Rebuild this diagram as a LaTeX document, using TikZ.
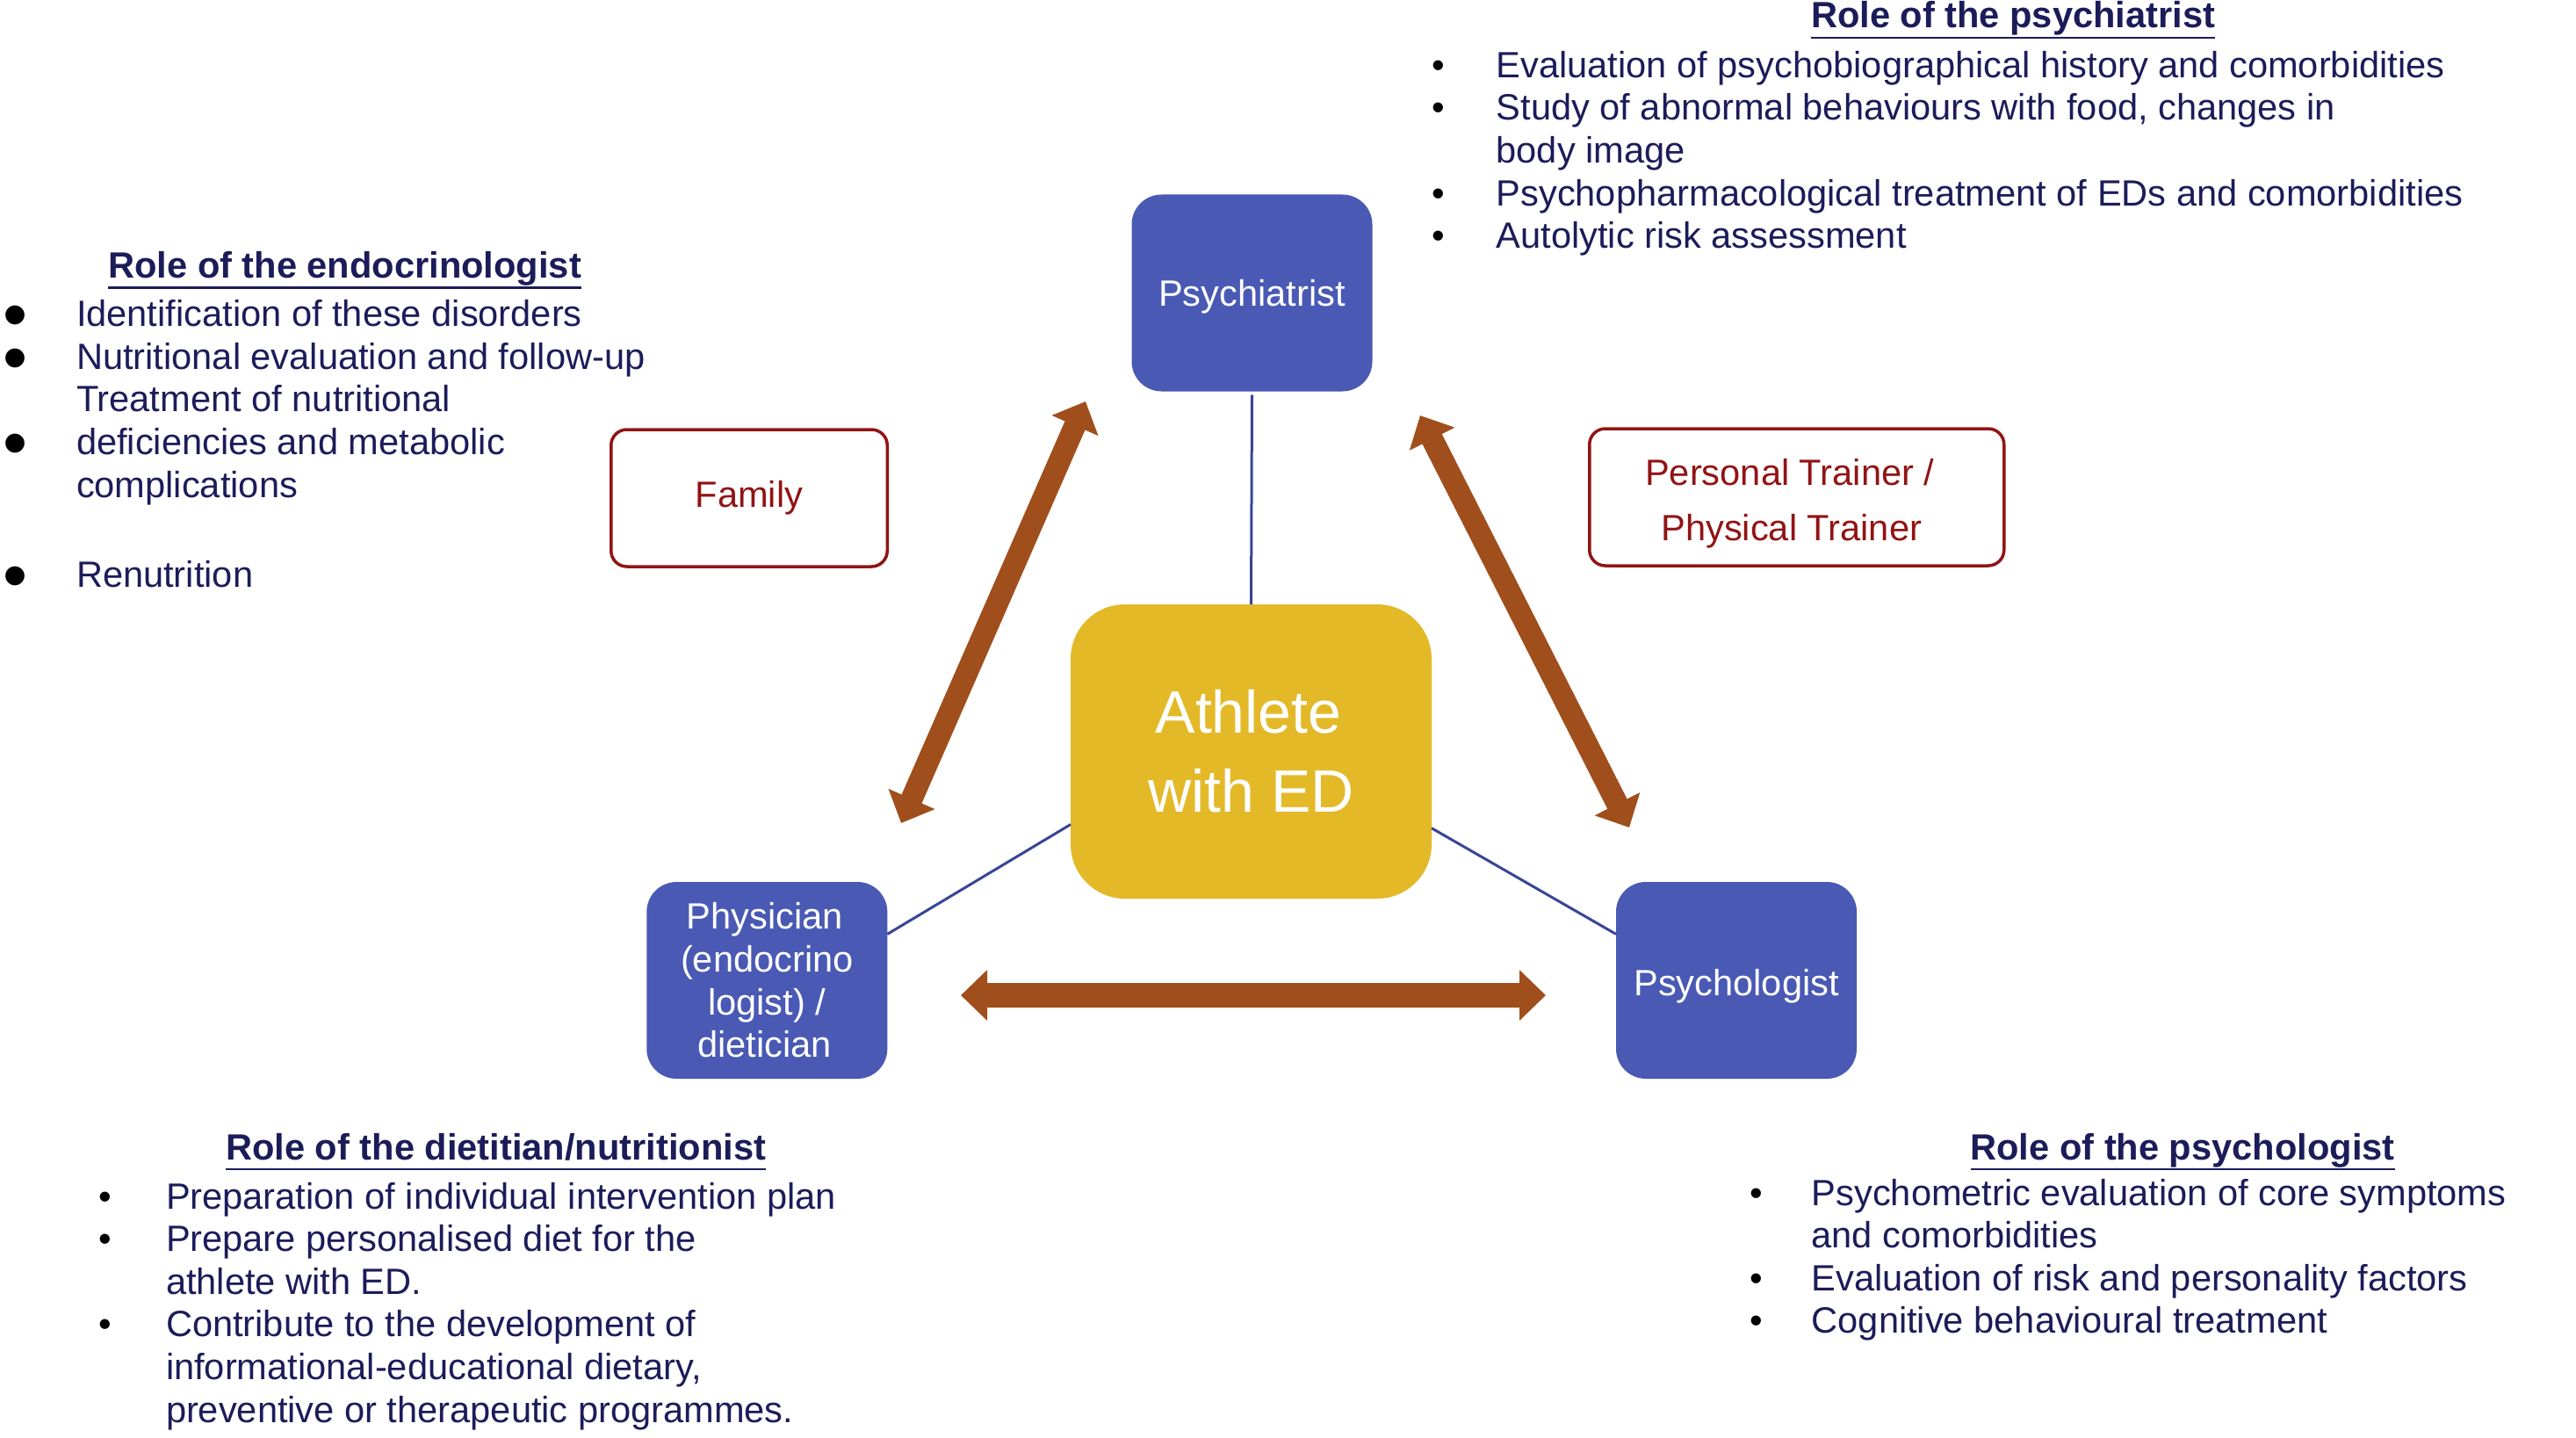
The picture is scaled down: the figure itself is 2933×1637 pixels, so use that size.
\documentclass[tikz,border=0pt]{standalone}
\usepackage{fontspec}
\setmainfont{Liberation Sans}
\usetikzlibrary{arrows.meta}
\definecolor{boxblue}{RGB}{73,89,180}
\definecolor{athyellow}{RGB}{227,185,40}
\definecolor{navytext}{RGB}{28,28,90}
\definecolor{darkred}{RGB}{145,20,20}
\definecolor{linknavy}{RGB}{55,70,150}
\definecolor{arrowbrown}{RGB}{160,78,28}
\newlength\bw
\newcommand\bl[1]{\makebox[\bw][l]{\textcolor{black}{\textbullet}}#1}
\newcommand\bigbl[1]{\makebox[\bw][l]{\smash{\raisebox{-14pt}{\fontsize{80}{80}\selectfont\textcolor{black}{\textbullet}}}}#1}
\newcommand\cn[1]{\hspace*{\bw}#1}
\begin{document}
\begin{tikzpicture}[x=1pt,y=-1pt,
  every node/.style={inner sep=0pt,outer sep=0pt},
  prof/.style={fill=boxblue,rounded corners=34pt,minimum width=274pt,minimum height=224pt,text=white,align=center,font=\fontsize{41.6}{48.6}\selectfont},
  athbox/.style={fill=athyellow,rounded corners=62pt,minimum width=411pt,minimum height=335pt,text=white,align=center,font=\fontsize{68}{90}\selectfont},
  redbox/.style={draw=darkred,line width=3.5pt,fill=white,rounded corners=18pt,minimum height=156pt,text=darkred,align=center,font=\fontsize{41.6}{63.3}\selectfont},
  roletitle/.style={anchor=base,text=navytext,font=\fontsize{41.6}{48.6}\selectfont\bfseries},
  rolelist/.style={anchor=base west,text=navytext,font=\fontsize{41.6}{48.6}\selectfont},
  uline/.style={draw=navytext,line width=2.5pt},
  link/.style={draw=linknavy,line width=3pt},
  duo/.style={draw=arrowbrown,line width=#1,{Triangle[width=56pt,length=30pt]}-{Triangle[width=56pt,length=30pt]}},
  duo/.default=25pt
]
\useasboundingbox (0,0) rectangle (2933,1637);

% central and professional boxes
\node[athbox] (ath) at (1424.5,855.5) {Athlete\hspace*{6pt}\\with ED};
\node[prof,text height=38pt,text depth=9pt] (psy) at (1425.5,333.5) {Psychiatrist};
\node[prof] (phy) at (873.3,1116) {Physician\hspace*{5pt}\\(endocrino\hspace*{5pt}\\logist) /\hspace*{5pt}\\dietician\hspace*{5pt}};
\node[prof,text height=43pt,text depth=9pt] (psl) at (1977,1116) {Psychologist};

% support boxes
\node[redbox,minimum width=314.5pt] (fam) at (853,567) {Family};
\node[redbox,minimum width=472pt] (trn) at (2045.75,566) {\rule{0pt}{44pt}Personal Trainer /\hspace*{16pt}\\Physical Trainer\hspace*{12pt}};

% thin links
\draw[link] ([yshift=-4pt]psy.south) -- (ath.north);
\draw[link] (ath.202.2) -- (phy.21.3);
\draw[link] (ath.337.7) -- (psl.159);

% brown double arrows
\coordinate (lA) at (1026,937);
\coordinate (lB) at (1236,457);
\coordinate (rA) at (1617,473);
\coordinate (rB) at (1855,942);
\coordinate (hA) at (1094,1133);
\coordinate (hB) at (1760,1133);
\draw[duo] (lA) -- (lB);
\draw[duo] (rA) -- (rB);
\draw[duo=28pt] (hA) -- (hB);

% role of the psychiatrist
\node[roletitle] (tpsy) at (2292,32) {Role of the psychiatrist};
\draw[uline] ([yshift=-11pt]tpsy.base west) -- ([yshift=-11pt]tpsy.base east);
\node[rolelist] (lpsy) at (1630,88.3) {\setlength\bw{73.7pt}\begin{tabular}[t]{@{}l@{}}
\bl{Evaluation of psychobiographical history and comorbidities}\\
\bl{Study of abnormal behaviours with food, changes in}\\
\cn{body image}\\
\bl{Psychopharmacological treatment of EDs and comorbidities}\\
\bl{Autolytic risk assessment}
\end{tabular}};

% role of the endocrinologist
\node[roletitle] (tend) at (392.6,316.7) {Role of the endocrinologist};
\draw[uline] ([yshift=-11pt]tend.base west) -- ([yshift=-11pt]tend.base east);
\node[rolelist] (lend) at (3,371.7) {\setlength\bw{84pt}\begin{tabular}[t]{@{}l@{}}
\bigbl{Identification of these disorders}\\
\bigbl{Nutritional evaluation and follow-up}\\
\cn{Treatment of nutritional}\\
\bigbl{deficiencies and metabolic}\\
\cn{complications}\\[53.6pt]
\bigbl{Renutrition}
\end{tabular}};

% role of the dietitian
\node[roletitle] (tdie) at (564.6,1320) {Role of the dietitian/nutritionist};
\draw[uline] ([yshift=-11pt]tdie.base west) -- ([yshift=-11pt]tdie.base east);
\node[rolelist] (ldie) at (112.7,1376) {\setlength\bw{76.3pt}\begin{tabular}[t]{@{}l@{}}
\bl{Preparation of individual intervention plan}\\
\bl{Prepare personalised diet for the}\\
\cn{athlete with ED.}\\
\bl{Contribute to the development of}\\
\cn{informational-educational dietary,}\\
\cn{preventive or therapeutic programmes.}
\end{tabular}};

% role of the psychologist
\node[roletitle] (tpsl) at (2485,1320) {Role of the psychologist};
\draw[uline] ([yshift=-11pt]tpsl.base west) -- ([yshift=-11pt]tpsl.base east);
\node[rolelist] (lpsl) at (1992.7,1372) {\setlength\bw{70pt}\begin{tabular}[t]{@{}l@{}}
\bl{Psychometric evaluation of core symptoms}\\
\cn{and comorbidities}\\
\bl{Evaluation of risk and personality factors}\\
\bl{Cognitive behavioural treatment}
\end{tabular}};
\end{tikzpicture}
\end{document}
